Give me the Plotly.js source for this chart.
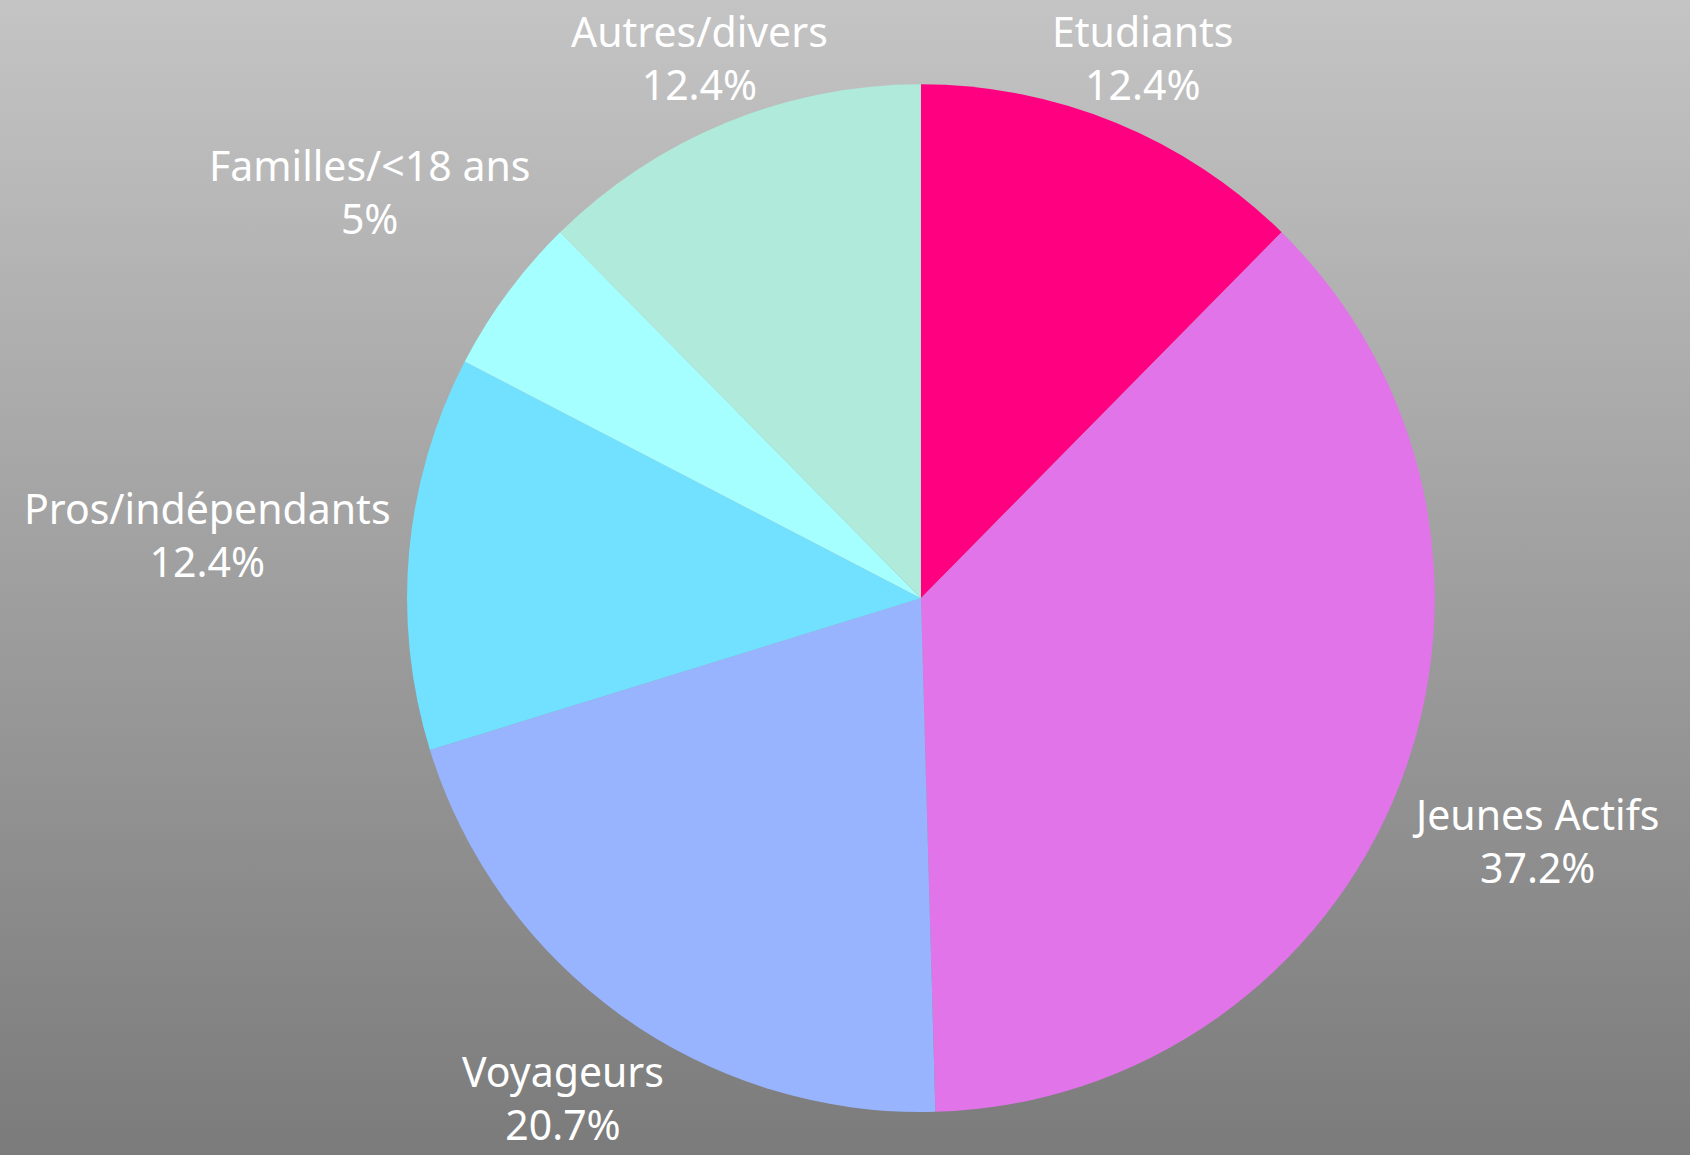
<!DOCTYPE html>
<html>
<head>
<meta charset="utf-8">
<script src="https://cdn.plot.ly/plotly-3.0.1.min.js"></script>
<style>
  html, body { margin: 0; padding: 0; width: 1690px; height: 1155px; overflow: hidden;
    background: linear-gradient(to bottom, #c4c4c4 0%, #7b7b7b 100%); }
  #chart { width: 1690px; height: 1155px; }
</style>
</head>
<body>
<div id="chart"></div>
<script>
const categories = ["Etudiants", "Jeunes Actifs", "Voyageurs", "Pros/indépendants", "Familles/<18 ans", "Autres/divers"];
const shares = [12.4, 37.2, 20.7, 12.4, 5, 12.4];
const sliceColors = ["#ff0080", "#e174e9", "#99b4ff", "#72e0ff", "#a6ffff", "#b0eada"];

const W = 1690, H = 1155;
const FONT_FAMILY = "Noto Sans, Open Sans, sans-serif";
const FONT_SIZE = 41;
const pieDomain = { x: [0.2408, 0.849], y: [0.0372, 0.927] };

const trace = {
  type: "pie",
  labels: categories,
  values: shares,
  sort: false,
  direction: "clockwise",
  rotation: 0,
  marker: { colors: sliceColors, line: { width: 0 } },
  textinfo: "none",
  hoverinfo: "label+percent",
  domain: pieDomain
};

// Outside labels: placed along each slice's mid-angle (derived from the data),
// just clear of the pie's rim.
const cxPx = (pieDomain.x[0] + pieDomain.x[1]) / 2 * W;
const cyPx = (1 - (pieDomain.y[0] + pieDomain.y[1]) / 2) * H;
const rPx = Math.min((pieDomain.x[1] - pieDomain.x[0]) * W, (pieDomain.y[1] - pieDomain.y[0]) * H) / 2;

const canvas = document.createElement("canvas");
const ctx = canvas.getContext("2d");
ctx.font = FONT_SIZE + "px 'Noto Sans'";

const total = shares.reduce((a, b) => a + b, 0);
const gap = 16, halfH = 48, halfBox = 1.3 * FONT_SIZE + 2, edgeMin = 2;
let cum = 0;
const annotations = categories.map((name, i) => {
  const mid = (cum + shares[i] / 2) / total * 2 * Math.PI;
  cum += shares[i];
  const ux = Math.sin(mid), uy = -Math.cos(mid);
  const line2 = shares[i] + "%";
  const halfW = Math.max(ctx.measureText(name).width, ctx.measureText(line2).width) / 2;
  const nearest = d => {
    const dx = Math.max(Math.abs(d * ux) - halfW, 0);
    const dy = Math.max(Math.abs(d * uy) - halfH, 0);
    return Math.hypot(dx, dy);
  };
  let lo = 0, hi = 3 * rPx;
  for (let k = 0; k < 60; k++) {
    const m = (lo + hi) / 2;
    if (nearest(m) < rPx + gap) lo = m; else hi = m;
  }
  let d = lo;
  if (uy < 0) {
    const dMax = (cyPx - halfBox - edgeMin) / (-uy);
    if (d > dMax) d = dMax;
  } else if (uy > 0) {
    const dMax = (H - edgeMin - halfBox - cyPx) / uy;
    if (d > dMax) d = dMax;
  }
  const px = cxPx + d * ux, py = cyPx + d * uy;
  return {
    xref: "paper", yref: "paper",
    x: px / W, y: 1 - py / H,
    xanchor: "center", yanchor: "middle",
    align: "center",
    showarrow: false,
    text: name.replace("<", "&lt;") + "<br>" + line2,
    font: { family: FONT_FAMILY, size: FONT_SIZE, color: "#ffffff" }
  };
});

const layout = {
  width: W,
  height: H,
  margin: { l: 0, r: 0, t: 0, b: 0 },
  paper_bgcolor: "rgba(0,0,0,0)",
  plot_bgcolor: "rgba(0,0,0,0)",
  showlegend: false,
  font: { family: FONT_FAMILY, color: "#ffffff" },
  annotations: annotations
};

Plotly.newPlot("chart", [trace], layout, { displayModeBar: false, staticPlot: true });
</script>
</body>
</html>
